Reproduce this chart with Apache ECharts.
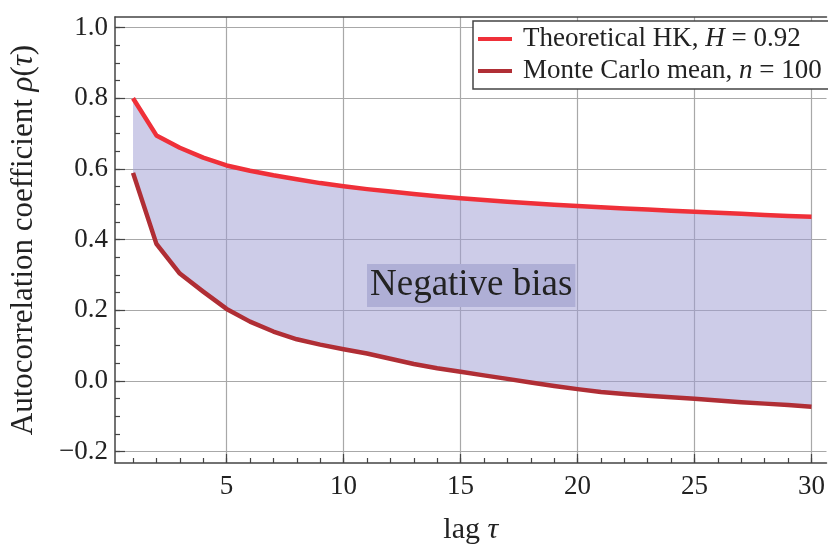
<!DOCTYPE html>
<html>
<head>
<meta charset="utf-8">
<script src="https://cdn.jsdelivr.net/npm/echarts@6/dist/echarts.min.js"></script>
<style>
html,body{margin:0;padding:0;background:#fff;}
#c{width:828px;height:550px;}
</style>
</head>
<body>
<div id="c"></div>
<script>
const lags = [1,2,3,4,5,6,7,8,9,10,11,12,13,14,15,16,17,18,19,20,21,22,23,24,25,26,27,28,29,30];
const theoreticalHK = [0.800,0.695,0.660,0.632,0.610,0.595,0.582,0.571,0.560,0.551,0.543,0.536,0.529,0.523,0.517,0.512,0.507,0.503,0.499,0.495,0.492,0.488,0.485,0.482,0.479,0.476,0.473,0.470,0.467,0.465];
const monteCarloMean = [0.589,0.388,0.304,0.253,0.204,0.168,0.140,0.118,0.103,0.090,0.078,0.063,0.048,0.036,0.026,0.016,0.006,-0.004,-0.014,-0.023,-0.031,-0.037,-0.042,-0.046,-0.050,-0.055,-0.060,-0.064,-0.068,-0.073];
const xMajorTicks = [5,10,15,20,25,30];
const xMinorTicks = [1,2,3,4,5,6,7,8,9,10,11,12,13,14,15,16,17,18,19,20,21,22,23,24,25,26,27,28,29,30];
const yMajorTicks = [-0.2,0,0.2,0.4,0.6,0.8,1.0];
const yMinorTicks = [-0.2,-0.15,-0.1,-0.05,0,0.05,0.1,0.15,0.2,0.25,0.3,0.35,0.4,0.45,0.5,0.55,0.6,0.65,0.7,0.75,0.8,0.85,0.9,0.95,1.0];
const seriesNames = ['Theoretical HK, H = 0.92', 'Monte Carlo mean, n = 100'];
const annotationText = 'Negative bias';

const FONT = '"Liberation Serif", "DejaVu Serif", serif';
const X_MIN = 0.23, X_MAX = 30.64, Y_MIN = -0.232, Y_MAX = 1.03;

const chart = echarts.init(document.getElementById('c'), null, {renderer: 'canvas'});

const bandData = lags.map((l, i) => [l, theoreticalHK[i], monteCarloMean[i]]);

function fmtY(v) {
  const s = Math.abs(v).toFixed(1);
  return v < -1e-9 ? '\u2212' + s : s;
}

function renderBand(params, api) {
  if (params.dataIndex !== 0) return null;
  const pts = [];
  for (let i = 0; i < lags.length; i++) pts.push(api.coord([lags[i], theoreticalHK[i]]));
  for (let i = lags.length - 1; i >= 0; i--) pts.push(api.coord([lags[i], monteCarloMean[i]]));
  return {type: 'polygon', shape: {points: pts}, style: {fill: 'rgba(160,158,210,0.52)', stroke: null}, silent: true};
}

chart.setOption({
  animation: false,
  backgroundColor: '#fff',
  grid: {left: 114, top: 17, right: 0, bottom: 84, show: false},
  legend: {
    data: seriesNames,
    orient: 'vertical',
    left: 473, top: 21,
    backgroundColor: '#fff',
    borderColor: '#444', borderWidth: 1.5, borderRadius: 0,
    padding: [4, 8, 4, 5],
    itemGap: 4,
    itemWidth: 34, itemHeight: 4,
    icon: 'rect',
    textStyle: {fontFamily: FONT, fontSize: 27, color: '#222', lineHeight: 28, padding: [0, 0, 0, 6], rich: {
      i: {fontFamily: FONT, fontStyle: 'italic', fontSize: 27, color: '#222', lineHeight: 28}
    }},
    formatter: function (name) {
      if (name === seriesNames[0]) return 'Theoretical HK, {i|H} = 0.92';
      return 'Monte Carlo mean, {i|n} = 100';
    }
  },
  xAxis: [{
    type: 'value', min: X_MIN, max: X_MAX, position: 'bottom',
    name: 'lag {i|\u03c4}', nameLocation: 'middle', nameGap: 52,
    nameTextStyle: {fontFamily: FONT, fontSize: 30, color: '#222', rich: {i: {fontFamily: FONT, fontStyle: 'italic', fontSize: 30, color: '#222'}}},
    axisLine: {show: true, onZero: false, lineStyle: {color: '#444', width: 1.5}},
    axisTick: {show: true, inside: true, length: 9, customValues: xMajorTicks, lineStyle: {color: '#444', width: 1.2}},
    axisLabel: {show: true, customValues: xMajorTicks, margin: 10, fontFamily: FONT, fontSize: 27, color: '#222', formatter: v => String(v)},
    splitLine: {show: true, lineStyle: {color: '#a8a8a8', width: 1.2}}
  }, {
    type: 'value', min: X_MIN, max: X_MAX, position: 'bottom',
    axisLine: {show: false, onZero: false},
    axisTick: {show: true, inside: true, length: 5, customValues: xMinorTicks, lineStyle: {color: '#444', width: 1.2}},
    axisLabel: {show: false},
    splitLine: {show: false}
  }, {
    type: 'value', min: X_MIN, max: X_MAX, position: 'top',
    axisLine: {show: true, onZero: false, lineStyle: {color: '#444', width: 1.5}},
    axisTick: {show: false},
    axisLabel: {show: false},
    splitLine: {show: false}
  }],
  yAxis: [{
    type: 'value', min: Y_MIN, max: Y_MAX, position: 'left',
    name: 'Autocorrelation coefficient {i|\u03c1}({i|\u03c4})', nameLocation: 'middle', nameGap: 76,
    nameTextStyle: {fontFamily: FONT, fontSize: 31, color: '#222', rich: {i: {fontFamily: FONT, fontStyle: 'italic', fontSize: 31, color: '#222'}}},
    axisLine: {show: true, onZero: false, lineStyle: {color: '#444', width: 1.5}},
    axisTick: {show: true, inside: true, length: 10, customValues: yMajorTicks, lineStyle: {color: '#444', width: 1.2}},
    axisLabel: {show: true, customValues: yMajorTicks, margin: 7, fontFamily: FONT, fontSize: 27, color: '#222', formatter: fmtY},
    splitLine: {show: true, lineStyle: {color: '#a8a8a8', width: 1.2}}
  }, {
    type: 'value', min: Y_MIN, max: Y_MAX, position: 'left',
    axisLine: {show: false, onZero: false},
    axisTick: {show: true, inside: true, length: 5, customValues: yMinorTicks, lineStyle: {color: '#444', width: 1.2}},
    axisLabel: {show: false},
    splitLine: {show: false}
  }],
  series: [{
    name: 'band', type: 'custom', xAxisIndex: 0, yAxisIndex: 0,
    data: bandData, encode: {x: 0, y: [1, 2]},
    renderItem: renderBand, silent: true, z: 1
  }, {
    name: seriesNames[0], type: 'line', xAxisIndex: 0, yAxisIndex: 0,
    data: lags.map((l, i) => [l, theoreticalHK[i]]),
    symbol: 'none', color: '#ef3039', z: 3,
    lineStyle: {color: '#ef3039', width: 4.5, cap: 'butt', join: 'round'}
  }, {
    name: seriesNames[1], type: 'line', xAxisIndex: 0, yAxisIndex: 0,
    data: lags.map((l, i) => [l, monteCarloMean[i]]),
    symbol: 'none', color: '#b02e35', z: 3,
    lineStyle: {color: '#b02e35', width: 4.5, cap: 'butt', join: 'round'}
  }],
  graphic: [{
    type: 'text', left: 367, top: 264, z: 100,
    style: {text: annotationText, fontFamily: FONT, fontSize: 37, fill: '#222',
      backgroundColor: '#afafd6', padding: [3, 3, 3, 3]}
  }]
});
</script>
</body>
</html>
